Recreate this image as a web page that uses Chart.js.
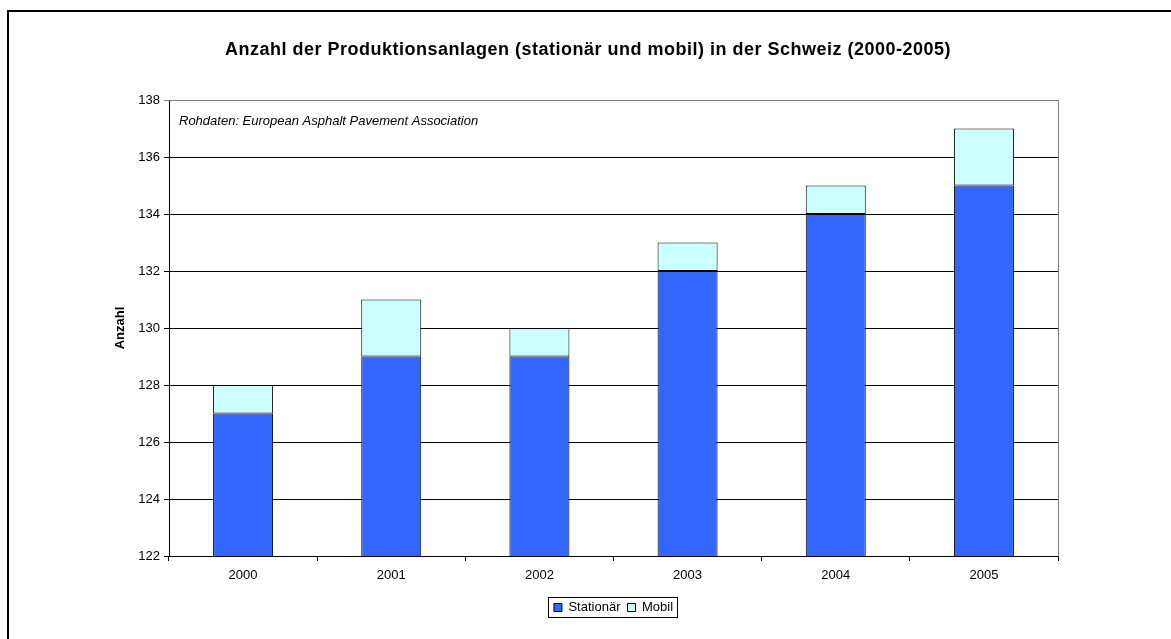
<!DOCTYPE html>
<html>
<head>
<meta charset="utf-8">
<script src="https://cdn.jsdelivr.net/npm/chart.js@4"></script>
<style>
html,body{margin:0;padding:0;background:#fff;}
#wrap{width:1171px;height:639px;position:relative;}
</style>
</head>
<body>
<div id="wrap"><canvas id="c" width="1171" height="639"></canvas></div>
<script>
const categories = ['2000', '2001', '2002', '2003', '2004', '2005'];
const stationaer = [127, 129, 129, 132, 134, 135];
const mobil = [1, 2, 1, 1, 1, 2];
const seriesNames = ['Stationär', 'Mobil'];
const yTicks = [122, 124, 126, 128, 130, 132, 134, 136, 138];
const titleText = 'Anzahl der Produktionsanlagen (stationär und mobil) in der Schweiz (2000-2005)';
const noteText = 'Rohdaten: European Asphalt Pavement Association';
const yTitle = 'Anzahl';

const FONT = 'Arial, "Liberation Sans", sans-serif';

const framePlugin = {
  id: 'frame',
  beforeDraw(chart) {
    const ctx = chart.ctx;
    ctx.save();
    ctx.fillStyle = '#fff';
    ctx.fillRect(0, 0, chart.width, chart.height);
    ctx.strokeStyle = '#000';
    ctx.lineWidth = 2;
    ctx.beginPath();
    ctx.moveTo(8, chart.height + 2);
    ctx.lineTo(8, 11);
    ctx.lineTo(chart.width + 2, 11);
    ctx.stroke();
    // chart title
    ctx.fillStyle = '#000';
    ctx.font = 'bold 18px ' + FONT;
    if ('letterSpacing' in ctx) ctx.letterSpacing = '0.5px';
    ctx.textAlign = 'center';
    ctx.textBaseline = 'middle';
    ctx.fillText(titleText, 588, 50);
    if ('letterSpacing' in ctx) ctx.letterSpacing = '0px';
    ctx.restore();
  },
  afterDatasetsDraw(chart) {
    const ctx = chart.ctx;
    const a = chart.chartArea;
    ctx.save();
    ctx.strokeStyle = '#808080';
    ctx.lineWidth = 1;
    ctx.beginPath();
    ctx.moveTo(Math.round(a.left) + 0.5, Math.round(a.top) + 0.5);
    ctx.lineTo(Math.round(a.right) + 0.5, Math.round(a.top) + 0.5);
    ctx.lineTo(Math.round(a.right) + 0.5, Math.round(a.bottom) + 0.5);
    ctx.stroke();
    ctx.fillStyle = '#000';
    ctx.font = 'italic 13px ' + FONT;
    ctx.textAlign = 'left';
    ctx.textBaseline = 'middle';
    ctx.fillText(noteText, a.left + 10, a.top + 21);
    ctx.restore();
  },
  afterDraw(chart) {
    const lg = chart.legend;
    if (!lg || !lg.legendHitBoxes || !lg.legendHitBoxes.length) return;
    const hb = lg.legendHitBoxes;
    let l = Infinity, r = -Infinity, t = Infinity, b = -Infinity;
    hb.forEach(h => { l = Math.min(l, h.left); r = Math.max(r, h.left + h.width); t = Math.min(t, h.top); b = Math.max(b, h.top + h.height); });
    const ctx = chart.ctx;
    ctx.save();
    ctx.strokeStyle = '#000';
    ctx.lineWidth = 1;
    ctx.strokeRect(Math.round(l - 6) + 0.5, Math.round(t - 4) + 0.5, Math.round(r - l + 10), Math.round(b - t + 7));
    ctx.restore();
  }
};

new Chart(document.getElementById('c'), {
  type: 'bar',
  data: {
    labels: categories,
    datasets: [
      { label: seriesNames[0], data: stationaer, backgroundColor: '#3366FF', borderColor: '#000', borderWidth: 1, borderSkipped: false },
      { label: seriesNames[1], data: mobil, backgroundColor: '#CCFFFF', borderColor: '#000', borderWidth: 1, borderSkipped: false }
    ]
  },
  options: {
    responsive: false,
    animation: false,
    layout: { padding: { left: 0, right: 113, top: 100, bottom: 15 } },
    datasets: { bar: { categoryPercentage: 1, barPercentage: 0.405 } },
    plugins: {
      title: { display: false },
      legend: {
        display: true,
        position: 'bottom',
        fullSize: false,
        labels: {
          color: '#000',
          font: { family: FONT, size: 13 },
          boxWidth: 8,
          boxHeight: 8,
          padding: 7,
          generateLabels(chart) {
            return chart.data.datasets.map((ds, i) => ({
              text: ds.label, fillStyle: ds.backgroundColor, strokeStyle: '#000', lineWidth: 1, datasetIndex: i, hidden: false, fontColor: '#000'
            }));
          }
        }
      },
      tooltip: { enabled: false }
    },
    scales: {
      x: {
        stacked: true,
        offset: true,
        grid: { display: true, drawOnChartArea: false, drawTicks: true, tickLength: 5, offset: true, color: '#000' },
        border: { display: true, color: '#000', width: 1 },
        ticks: { color: '#000', font: { family: FONT, size: 13 }, padding: 7, maxRotation: 0 },
        afterFit(scale) { scale.height = 38; }
      },
      y: {
        stacked: true,
        min: 122,
        max: 138,
        afterBuildTicks(scale) { scale.ticks = yTicks.map(v => ({ value: v })); },
        grid: {
          display: true, drawOnChartArea: true, drawTicks: true, tickLength: 5,
          color: ctx => (ctx.tick && ctx.tick.value === 138) ? '#808080' : '#000'
        },
        border: { display: true, color: '#000', width: 1 },
        ticks: { color: '#000', font: { family: FONT, size: 13 }, padding: 4 },
        title: { display: true, text: yTitle, color: '#000', font: { family: FONT, size: 13, weight: 'bold' }, padding: { top: 113, bottom: 0 } },
        afterFit(scale) { scale.width = 169; }
      }
    }
  },
  plugins: [framePlugin]
});
</script>
</body>
</html>
